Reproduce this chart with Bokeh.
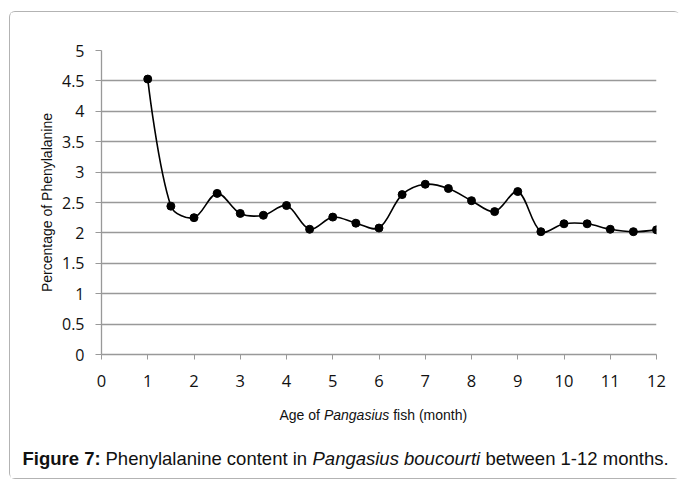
from bokeh.plotting import figure
from bokeh.layouts import column
from bokeh.models import Range1d, FixedTicker, Label, ColumnDataSource
from bokeh.embed import file_html
from bokeh.resources import INLINE

# ---- data ----
months = [1, 1.5, 2, 2.5, 3, 3.5, 4, 4.5, 5, 5.5, 6, 6.5, 7, 7.5, 8, 8.5, 9, 9.5, 10, 10.5, 11, 11.5, 12]
phenylalanine = [4.53, 2.44, 2.25, 2.65, 2.32, 2.29, 2.45, 2.06, 2.26, 2.16, 2.08, 2.63, 2.80,
                 2.73, 2.53, 2.35, 2.68, 2.02, 2.15, 2.15, 2.06, 2.02, 2.05]
x_ticks = [0, 1, 2, 3, 4, 5, 6, 7, 8, 9, 10, 11, 12]
x_tick_labels = ["0", "1", "2", "3", "4", "5", "6", "7", "8", "9", "10", "11", "12"]
y_ticks = [0, 0.5, 1, 1.5, 2, 2.5, 3, 3.5, 4, 4.5, 5]
y_tick_labels = ["0", "0.5", "1", "1.5", "2", "2.5", "3", "3.5", "4", "4.5", "5"]
y_title = "Percentage of Phenylalanine"
x_title_parts = [("Age of", "normal"), ("Pangasius", "italic"), ("fish (month)", "normal")]
caption_parts = [("Figure 7:", "bold"), ("Phenylalanine content in", "normal"),
                 ("Pangasius boucourti", "italic"), ("between 1-12 months.", "normal")]

# ---- layout (page pixels) ----
OX, OY = 10, 12                 # top-left of the content inside the rounded frame
W = 670
H1 = 382                        # chart figure height
H2 = 84                         # caption figure height
ML, MR, MT, MB = 91, 24, 38, 40
SX = (W - ML - MR) / 12.0
SY = (H1 - MT - MB) / 5.0

# ---- smoothed line segments (length-weighted Catmull-Rom -> cubic Bezier) ----
n = len(months)
def dist(a, b):
    return (((a[0] - b[0]) * SX) ** 2 + ((a[1] - b[1]) * SY) ** 2) ** 0.5

seg = dict(x0=[], y0=[], x1=[], y1=[], cx0=[], cy0=[], cx1=[], cy1=[])
pts = list(zip(months, phenylalanine))
for i in range(n - 1):
    p1, p2 = pts[i], pts[i + 1]
    p0 = pts[i - 1] if i > 0 else p1
    p3 = pts[i + 2] if i + 2 < n else p2
    d01, d12, d23 = dist(p0, p1), dist(p1, p2), dist(p2, p3)
    f1 = d12 / (d01 + d12) / 3.0 if d01 > 0 else 0.0
    f2 = d12 / (d12 + d23) / 3.0 if d23 > 0 else 0.0
    seg["x0"].append(p1[0]); seg["y0"].append(p1[1])
    seg["x1"].append(p2[0]); seg["y1"].append(p2[1])
    seg["cx0"].append(p1[0] + (p2[0] - p0[0]) * f1); seg["cy0"].append(p1[1] + (p2[1] - p0[1]) * f1)
    seg["cx1"].append(p2[0] - (p3[0] - p1[0]) * f2); seg["cy1"].append(p2[1] - (p3[1] - p1[1]) * f2)

p = figure(width=W, height=H1, output_backend="svg", toolbar_location=None,
           x_range=Range1d(0, 12), y_range=Range1d(0, 5),
           min_border_left=ML, min_border_right=MR, min_border_top=MT, min_border_bottom=MB)
p.frame_align = False
p.outline_line_color = None
p.background_fill_color = "white"
p.border_fill_color = "white"

grid_col = "#999999"
p.xgrid.visible = False
p.ygrid.ticker = FixedTicker(ticks=y_ticks)
p.ygrid.grid_line_color = grid_col
p.ygrid.grid_line_width = 1.3

p.xaxis.ticker = FixedTicker(ticks=x_ticks)
p.xaxis.major_label_overrides = {t: l for t, l in zip(x_ticks, x_tick_labels)}
p.xaxis.axis_line_color = grid_col
p.xaxis.axis_line_width = 1.3
p.xaxis.major_tick_line_color = grid_col
p.xaxis.major_tick_out = 5
p.xaxis.major_tick_in = 0
p.xaxis.minor_tick_line_color = None
p.xaxis.major_label_text_font = "Open Sans"
p.xaxis.major_label_text_font_size = "16.5px"
p.xaxis.major_label_text_color = "#111111"
p.xaxis.major_label_standoff = 15

p.yaxis.ticker = FixedTicker(ticks=y_ticks)
p.yaxis.major_label_overrides = {t: l for t, l in zip(y_ticks, y_tick_labels)}
p.yaxis.axis_line_color = grid_col
p.yaxis.axis_line_width = 1.3
p.yaxis.major_tick_line_color = grid_col
p.yaxis.major_tick_out = 6
p.yaxis.major_tick_in = 0
p.yaxis.minor_tick_line_color = None
p.yaxis.major_label_text_font = "Open Sans"
p.yaxis.major_label_text_font_size = "16px"
p.yaxis.major_label_text_color = "#111111"
p.yaxis.major_label_standoff = 11
p.yaxis.axis_label = y_title
p.yaxis.axis_label_text_font = "Liberation Sans"
p.yaxis.axis_label_text_font_size = "14px"
p.yaxis.axis_label_text_font_style = "normal"
p.yaxis.axis_label_text_color = "#111111"
p.yaxis.axis_label_standoff = 4

p.bezier(x0="x0", y0="y0", x1="x1", y1="y1", cx0="cx0", cy0="cy0", cx1="cx1", cy1="cy1",
         source=ColumnDataSource(seg), line_color="black", line_width=1.6)
p.scatter(months, phenylalanine, size=8, color="black")

# ---- caption strip: pixel-mapped figure holding the mixed-style texts ----
c = figure(width=W, height=H2, output_backend="svg", toolbar_location=None,
           x_range=Range1d(0, W), y_range=Range1d(H2, 0),
           x_axis_type=None, y_axis_type=None,
           min_border_left=0, min_border_right=0, min_border_top=0, min_border_bottom=0)
c.frame_align = False
c.outline_line_color = None
c.background_fill_color = "white"
c.border_fill_color = "white"
c.grid.visible = False

top2 = OY + H1  # page y of the caption strip top

def lab(px, py, text, size, style):
    c.add_layout(Label(x=px - OX, y=py - top2, text=text,
                       text_font="Liberation Sans", text_font_size=size, text_font_style=style,
                       text_color="#111111", text_baseline="alphabetic", text_align="left"))

for (t, s), px in zip(x_title_parts, [279, 323.4, 392.7]):
    lab(px, 414, t, "14px", s)
for (t, s), px in zip(caption_parts, [22, 105, 312, 485]):
    lab(px, 458, t, "18.5px", s)

layout = column(p, c, spacing=0, margin=(11, 0, 0, 9),
                styles={"border": "1px solid #b3b3b3", "border-radius": "6px",
                        "border-right": "none"})

open("out.html", "w").write(file_html(layout, INLINE))
